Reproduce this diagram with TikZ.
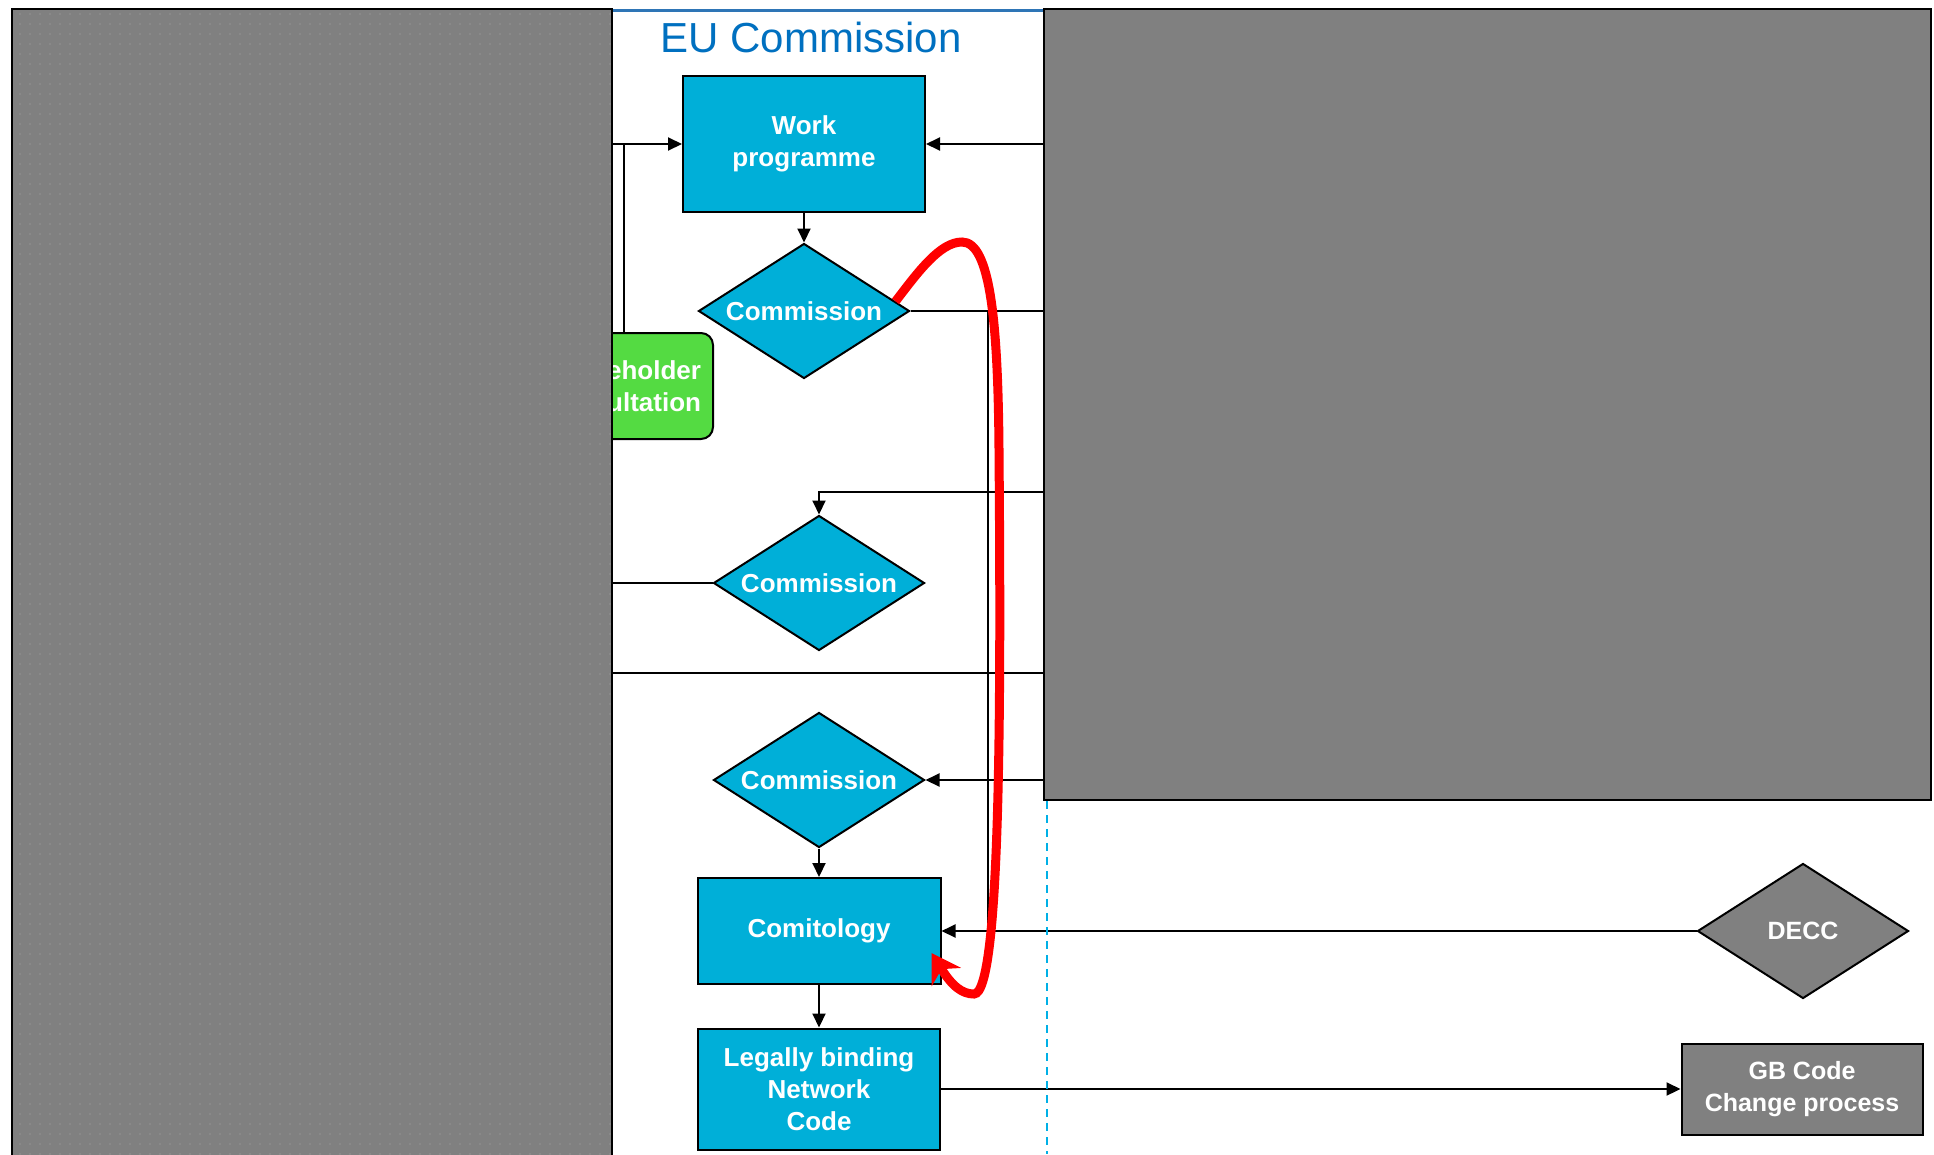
\documentclass[tikz,border=0pt]{standalone}
\usepackage{fontspec}
\setsansfont{Liberation Sans}
\usetikzlibrary{positioning, shapes.geometric, arrows.meta, patterns.meta}

\definecolor{eublue}{RGB}{0,112,192}
\definecolor{boxcyan}{RGB}{0,175,216}
\definecolor{panelgrey}{RGB}{128,128,128}
\definecolor{dotgrey}{RGB}{168,168,168}
\definecolor{stakegreen}{RGB}{84,219,66}
\definecolor{lanecyan}{RGB}{0,176,230}
\definecolor{topline}{RGB}{46,117,182}

\newcommand{\boxfont}{\sffamily\bfseries\fontsize{26}{32}\selectfont}

\tikzset{
  box/.style={draw, line width=2pt, fill=boxcyan, text=white, font=\boxfont, align=center, inner sep=2pt},
  decision/.style={box, diamond, aspect=1.56, minimum width=211pt, minimum height=135pt, inner sep=1pt},
  greydecision/.style={decision, fill=panelgrey},
  greybox/.style={box, fill=panelgrey},
  stakebox/.style={draw, line width=2pt, fill=stakegreen, rounded corners=12pt, text=white, font=\boxfont, align=right},
  panel/.style={draw, line width=2pt, fill=panelgrey, anchor=north west},
  flow/.style={line width=2pt, -{Triangle[length=14pt, width=13pt]}},
  plain/.style={line width=2pt},
  redarc/.style={draw=red, line width=9pt, -{Stealth[length=28pt, width=34pt, inset=9pt]}},
}

\begin{document}
\begin{tikzpicture}[x=1pt, y=-1pt, on grid]
\clip (0,0) rectangle (1934,1154);
\fill[white] (0,0) rectangle (1934,1154);

% consultation box, half hidden by the left lane
\node[stakebox, minimum width=178pt, minimum height=106pt, text width=154pt, inner xsep=12pt] (SC) at (624,386) {eholder\\ultation};

% lanes
\node[panel, preaction={fill=panelgrey}, pattern={Dots[distance=10pt, radius=0.7pt]}, pattern color=dotgrey,
      minimum width=600pt, minimum height=1200pt] (LP) at (11,8) {};
\node[panel, minimum width=887pt, minimum height=791pt] (RP) at (1043,8) {};
\draw[topline, line width=3pt] ([yshift=-2pt]LP.north east) -- ([yshift=-2pt]RP.north west);
\node[text=eublue, font=\sffamily\fontsize{42}{42}\selectfont] (title) at (811,37) {EU Commission};

% EU Commission column
\node[box, minimum width=242pt, minimum height=136pt] (WP) at (804,144) {Work\\programme};
\node[decision, below=167pt of WP] (D1) {Commission};
\node[decision] (D2) at (819,583) {Commission};
\node[decision] (D3) at (819,780) {Commission};
\node[box, minimum width=243pt, minimum height=106pt, below=151pt of D3] (Comit) {Comitology};
\node[box, minimum width=242pt, minimum height=121pt, below=158pt of Comit] (LBNC) {Legally binding\\Network\\Code};

% GB side
\node[greydecision, font=\sffamily\bfseries\fontsize{25}{32}\selectfont] (DECC) at (1803,931) {DECC};
\node[greybox, minimum width=241pt, minimum height=91pt, font=\sffamily\bfseries\fontsize{25}{32}\selectfont] (GB) at (1802,1089) {GB Code\\Change process};

\coordinate (bus) at (988,0);
\coordinate (lane) at (1047,0);

\draw[flow] (LP.east |- WP.west) -- (WP.west);
\draw[plain] (SC.north) -- (SC.north |- WP.west);
\draw[flow] (RP.west |- WP.east) -- (WP.east);
\draw[flow] (WP) -- (D1);
\draw[plain] (D1.east) -- (RP.west |- D1.east);
\draw[plain] (bus |- D1.east) -- (bus |- Comit.east);
\draw[flow] (RP.west |- 0,492) -| (D2.north);
\draw[plain] (LP.east |- D2.west) -- (D2.west);
\draw[plain] (LP.east |- 0,673) -- (RP.west |- 0,673);
\draw[flow] (RP.west |- D3.east) -- (D3.east);
\draw[flow] (D3) -- (Comit);
\draw[flow] (DECC.west) -- (Comit.east);
\draw[flow] (Comit) -- (LBNC);
\draw[flow] (LBNC.east) -- (GB.west);
\draw[lanecyan, line width=2pt, dash pattern=on 8pt off 6pt] (lane |- RP.south) -- (lane |- 0,1154);

% red loop back
\draw[redarc] (D1.6) .. controls (918,272) and (940,242) .. (962,242)
  .. controls (990,242) and (998,320) .. (999,450)
  .. controls (1001,700) and (1001,994) .. (974,994)
  .. controls (962,994) and (952,986) .. ([shift={(-10,-32)}]Comit.south east);
\end{tikzpicture}
\end{document}
